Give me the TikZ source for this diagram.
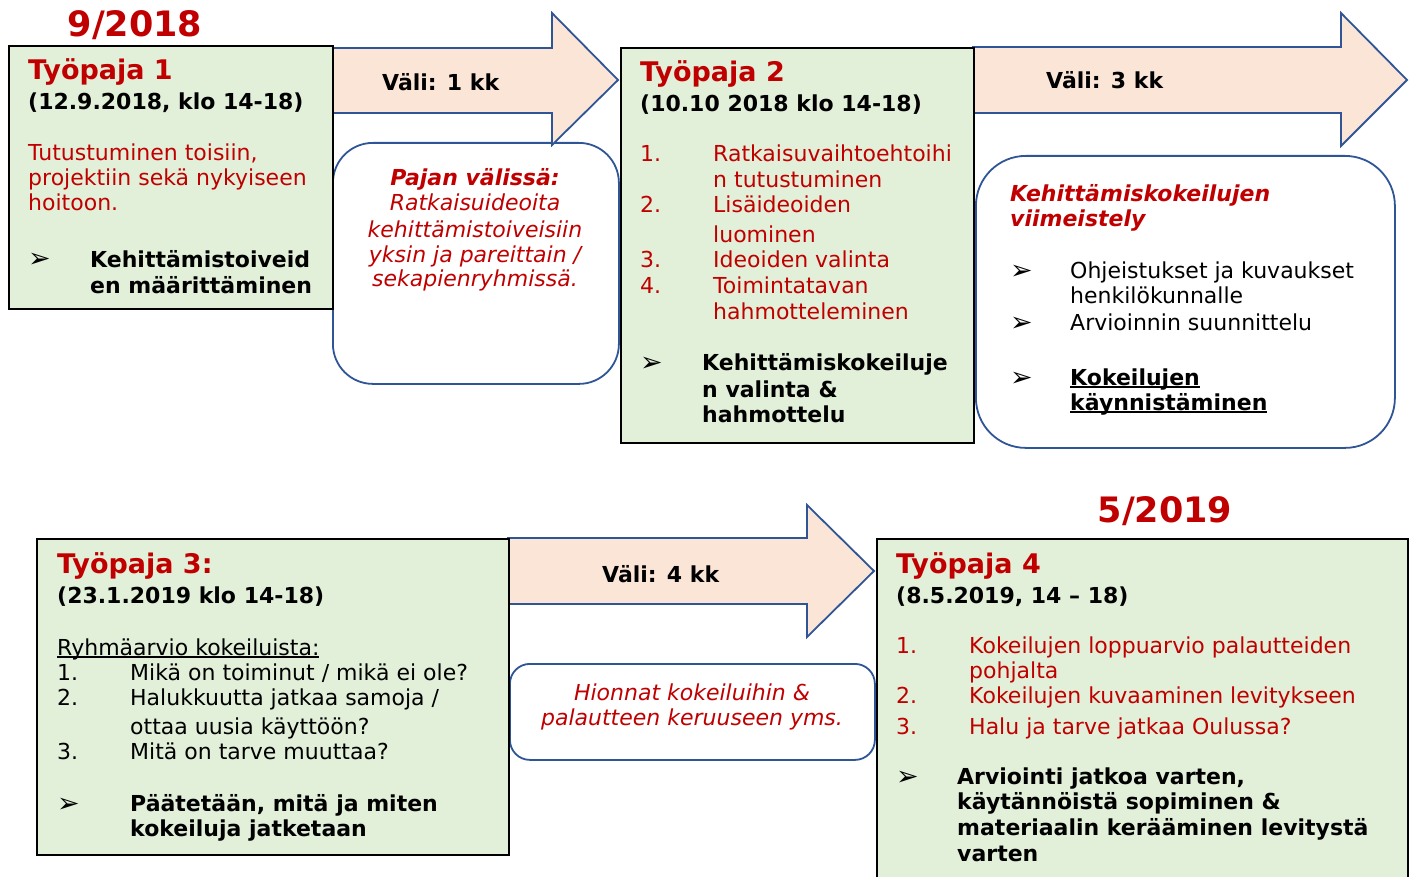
\documentclass[tikz,border=0pt]{standalone}
\usepackage{fontspec}
\setmainfont{DejaVu Sans}
\definecolor{wsgreen}{HTML}{E2F0D9}
\definecolor{gappeach}{HTML}{FBE5D6}
\definecolor{gapblue}{HTML}{2F5597}
\definecolor{wsred}{HTML}{C00000}
\newcommand\txtfont{\fontsize{22}{26}\selectfont}
\newcommand\ttlfont{\fontsize{27}{32}\selectfont\bfseries}
\newcommand\yrfont{\fontsize{35}{40}\selectfont\bfseries}
\newcommand\bltfont{\fontsize{27}{30}\selectfont}
\newcommand\ulin[1]{\setbox0\hbox{#1}\rlap{\rule[-2.5pt]{\wd0}{1.3pt}}\box0}
\tikzset{
  wsbox/.style={draw=black, line width=1.8pt, fill=wsgreen, anchor=north west},
  notebox/.style={draw=gapblue, line width=1.8pt, fill=white, anchor=north west},
  gaparrow/.style={draw=gapblue, line width=1.8pt, fill=gappeach, line join=miter},
  ln/.style={anchor=base west, inner sep=0pt, font=\txtfont},
  lnb/.style={ln, font=\txtfont\bfseries},
  lni/.style={anchor=base, inner sep=0pt, font=\txtfont\itshape, text=wsred},
  ttl/.style={anchor=base west, inner sep=0pt, font=\ttlfont, text=wsred},
  yr/.style={anchor=base, inner sep=0pt, font=\yrfont, text=wsred},
  blt/.style={anchor=base west, inner sep=0pt, font=\bltfont},
  rd/.style={text=wsred}
}
\begin{document}
\begin{tikzpicture}[x=1pt, y=-1pt]
  \useasboundingbox (0,0) rectangle (1415,877);
  % notes between the workshops
  \node[notebox, rounded corners=40pt, minimum width=286pt, minimum height=241pt] (n1) at (332,142) {};
  \node[notebox, rounded corners=50pt, minimum width=419pt, minimum height=292pt] (n2) at (975,155) {};
  \node[notebox, rounded corners=20pt, minimum width=365pt, minimum height=96pt] (n3) at (509,663) {};
  % gaps
  \draw[gaparrow] (332,48) -- (552,48) -- (552,13) -- (618,80) -- (552,145) -- (552,113) -- (332,113) -- cycle;
  \draw[gaparrow] (973,47) -- (1341,47) -- (1341,13) -- (1407,80) -- (1341,146) -- (1341,113) -- (973,113) -- cycle;
  \draw[gaparrow] (508,538) -- (807,538) -- (807,505) -- (874,571) -- (807,637) -- (807,604) -- (508,604) -- cycle;
  % workshops
  \node[wsbox, minimum width=324pt, minimum height=263pt] (ws1) at (8,45) {};
  \node[wsbox, minimum width=353pt, minimum height=395pt] (ws2) at (620,47) {};
  \node[wsbox, minimum width=472pt, minimum height=316pt] (ws3) at (36,538) {};
  \node[wsbox, minimum width=531pt, minimum height=360pt] (ws4) at (876,538) {};

  \node[yr] (y1) at (135,37) {9/2018};
  \node[yr] (y2) at (1165,522) {5/2019};

  % workshop 1
  \node[ttl] (ws1t) at (28,80) {Työpaja 1};
  \node[lnb] (ws1d) at (28,110) {(12.9.2018, klo 14-18)};
  \node[ln, rd] (ws1a) at (28,161) {Tutustuminen toisiin,};
  \node[ln, rd] (ws1b) at (28,186) {projektiin sekä nykyiseen};
  \node[ln, rd] (ws1c) at (28,211) {hoitoon.};
  \node[blt] (ws1p) at (28,268) {➢};
  \node[lnb] (ws1e) at (90,267) {Kehittämistoiveid};
  \node[lnb] (ws1f) at (90,293) {en määrittäminen};

  % gap 1
  \node[lnb] (g1) at (382,91) {Väli: 1 kk};
  \node[lni, font=\txtfont\bfseries\itshape] (n1a) at (475,186) {Pajan välissä:};
  \node[lni] (n1b) at (475,211) {Ratkaisuideoita};
  \node[lni] (n1c) at (475,237) {kehittämistoiveisiin};
  \node[lni] (n1d) at (475,262) {yksin ja pareittain /};
  \node[lni] (n1e) at (475,287) {sekapienryhmissä.};

  % workshop 2
  \node[ttl] (ws2t) at (640,82) {Työpaja 2};
  \node[lnb] (ws2d) at (640,112) {(10.10 2018 klo 14-18)};
  \node[ln, rd] (ws2n1) at (640,162) {1.};
  \node[ln, rd] (ws2a) at (713,162) {Ratkaisuvaihtoehtoihi};
  \node[ln, rd] (ws2b) at (713,188) {n tutustuminen};
  \node[ln, rd] (ws2n2) at (640,213) {2.};
  \node[ln, rd] (ws2c) at (713,213) {Lisäideoiden};
  \node[ln, rd] (ws2e) at (713,243) {luominen};
  \node[ln, rd] (ws2n3) at (640,268) {3.};
  \node[ln, rd] (ws2f) at (713,268) {Ideoiden valinta};
  \node[ln, rd] (ws2n4) at (640,293) {4.};
  \node[ln, rd] (ws2g) at (713,293) {Toimintatavan};
  \node[ln, rd] (ws2h) at (713,319) {hahmotteleminen};
  \node[blt] (ws2p) at (640,371) {➢};
  \node[lnb] (ws2i) at (702,370) {Kehittämiskokeiluje};
  \node[lnb] (ws2j) at (702,397) {n valinta \&};
  \node[lnb] (ws2k) at (702,422) {hahmottelu};

  % gap 2
  \node[lnb] (g2) at (1046,89) {Väli: 3 kk};
  \node[lnb, rd, font=\txtfont\bfseries\itshape] (n2a) at (1010,202) {Kehittämiskokeilujen};
  \node[lnb, rd, font=\txtfont\bfseries\itshape] (n2b) at (1010,227) {viimeistely};
  \node[blt] (n2p1) at (1010,279) {➢};
  \node[ln] (n2c) at (1070,278) {Ohjeistukset ja kuvaukset};
  \node[ln] (n2d) at (1070,303) {henkilökunnalle};
  \node[blt] (n2p2) at (1010,331) {➢};
  \node[ln] (n2e) at (1070,330) {Arvioinnin suunnittelu};
  \node[blt] (n2p3) at (1010,386) {➢};
  \node[lnb] (n2f) at (1070,385) {\ulin{Kokeilujen}};
  \node[lnb] (n2g) at (1070,410) {\ulin{käynnistäminen}};

  % workshop 3
  \node[ttl] (ws3t) at (57,573) {Työpaja 3:};
  \node[lnb] (ws3d) at (57,603) {(23.1.2019 klo 14-18)};
  \node[ln] (ws3a) at (57,655) {\ulin{Ryhmäarvio kokeiluista:}};
  \node[ln] (ws3n1) at (57,680) {1.};
  \node[ln] (ws3b) at (130,680) {Mikä on toiminut / mikä ei ole?};
  \node[ln] (ws3n2) at (57,705) {2.};
  \node[ln] (ws3c) at (130,705) {Halukkuutta jatkaa samoja /};
  \node[ln] (ws3e) at (130,734) {ottaa uusia käyttöön?};
  \node[ln] (ws3n3) at (57,759) {3.};
  \node[ln] (ws3f) at (130,759) {Mitä on tarve muuttaa?};
  \node[blt] (ws3p) at (57,812) {➢};
  \node[lnb] (ws3g) at (130,811) {Päätetään, mitä ja miten};
  \node[lnb] (ws3h) at (130,836) {kokeiluja jatketaan};

  % gap 3
  \node[lnb] (g3) at (602,582) {Väli: 4 kk};
  \node[lni] (n3a) at (692,700) {Hionnat kokeiluihin \&};
  \node[lni] (n3b) at (692,725) {palautteen keruuseen yms.};

  % workshop 4
  \node[ttl] (ws4t) at (896,573) {Työpaja 4};
  \node[lnb] (ws4d) at (896,603) {(8.5.2019, 14 – 18)};
  \node[ln, rd] (ws4n1) at (896,653) {1.};
  \node[ln, rd] (ws4a) at (969,653) {Kokeilujen loppuarvio palautteiden};
  \node[ln, rd] (ws4b) at (969,678) {pohjalta};
  \node[ln, rd] (ws4n2) at (896,703) {2.};
  \node[ln, rd] (ws4c) at (969,703) {Kokeilujen kuvaaminen levitykseen};
  \node[ln, rd] (ws4n3) at (896,734) {3.};
  \node[ln, rd] (ws4e) at (969,734) {Halu ja tarve jatkaa Oulussa?};
  \node[blt] (ws4p) at (896,785) {➢};
  \node[lnb] (ws4f) at (957,784) {Arviointi jatkoa varten,};
  \node[lnb] (ws4g) at (957,809) {käytännöistä sopiminen \&};
  \node[lnb] (ws4h) at (957,835) {materiaalin kerääminen levitystä};
  \node[lnb] (ws4i) at (957,861) {varten};
\end{tikzpicture}
\end{document}
